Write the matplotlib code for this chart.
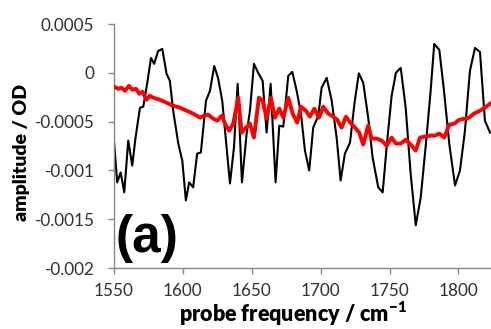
import matplotlib
matplotlib.use("Agg")
import matplotlib.pyplot as plt

# black trace (probe frequency / cm-1, amplitude in mOD)
black_freq = [1550.2, 1552.4, 1554.9, 1557.5, 1560.4, 1563.3, 1565.7, 1568.9, 1571.3, 1574.2,
              1576.9, 1579.2, 1582.1, 1585.1, 1588.2, 1590.6, 1593.0, 1596.7, 1599.6, 1602.2,
              1604.6, 1607.5, 1610.4, 1613.1, 1616.8, 1619.7, 1622.8, 1625.7, 1628.6, 1631.3,
              1634.2, 1637.1, 1639.8, 1642.9, 1646.3, 1648.7, 1651.6, 1654.7, 1657.9, 1660.8,
              1663.7, 1667.3, 1670.0, 1672.9, 1676.5, 1679.4, 1682.6, 1685.7, 1688.6, 1691.7,
              1694.6, 1698.3, 1700.7, 1704.4, 1708.0, 1711.6, 1714.5, 1717.6, 1721.3, 1724.6,
              1727.7, 1730.9, 1734.5, 1737.7, 1741.8, 1745.0, 1748.3, 1751.5, 1754.6, 1758.1,
              1761.7, 1765.3, 1769.0, 1772.6, 1776.4, 1779.8, 1782.4, 1786.1, 1789.5, 1793.3,
              1797.5, 1801.1, 1804.7, 1808.3, 1812.0, 1815.6, 1819.2, 1822.9]
black_amp = [-0.724, -1.122, -1.020, -1.224, -0.694, -0.949, -0.663, -0.357, -0.347, -0.102,
             0.153, 0.092, 0.224, 0.245, -0.010, -0.082, -0.388, -0.724, -0.898, -1.306,
             -1.122, -1.173, -0.827, -0.816, -0.286, -0.184, 0.071, -0.061, -0.286, -0.694,
             -1.133, -0.765, -0.112, -1.122, -0.622, -0.388, 0.092, 0.000, -0.082, -0.612,
             -0.112, -1.122, -0.541, -0.551, -0.031, 0.010, -0.184, -0.418, -0.796, -1.000,
             -0.561, -0.439, -0.153, -0.051, -0.286, -0.663, -1.102, -0.827, -0.714, -0.306,
             -0.005, -0.102, -0.459, -0.867, -1.173, -1.224, -0.694, -0.235, 0.000, 0.051,
             -0.357, -1.031, -1.561, -1.276, -0.724, -0.184, 0.296, 0.235, -0.184, -0.724,
             -1.153, -1.000, -0.592, 0.020, 0.255, 0.214, -0.490, -0.612]

# red trace
red_freq = [1550.2, 1553.1, 1555.6, 1558.0, 1560.9, 1563.3, 1566.0, 1568.4, 1570.8, 1573.7,
            1576.1, 1578.5, 1583.4, 1588.2, 1593.0, 1597.9, 1602.8, 1607.5, 1612.4, 1615.3,
            1618.4, 1622.1, 1625.0, 1628.2, 1631.3, 1633.7, 1636.6, 1640.2, 1642.7, 1645.8,
            1648.7, 1651.6, 1655.2, 1657.9, 1660.8, 1663.9, 1666.8, 1670.0, 1672.9, 1676.5,
            1679.7, 1683.0, 1685.7, 1689.3, 1692.2, 1695.4, 1698.8, 1701.9, 1705.5, 1709.1,
            1712.0, 1715.2, 1718.4, 1721.5, 1724.9, 1728.0, 1730.9, 1734.5, 1737.0, 1740.6,
            1744.3, 1747.9, 1751.5, 1754.6, 1758.1, 1761.9, 1765.3, 1769.0, 1772.1, 1775.7,
            1779.3, 1783.0, 1786.1, 1789.7, 1793.3, 1797.0, 1800.6, 1804.7, 1807.8, 1811.2,
            1815.6, 1819.2, 1822.9]
red_amp = [-0.143, -0.163, -0.153, -0.184, -0.133, -0.173, -0.163, -0.214, -0.194, -0.276,
           -0.235, -0.255, -0.276, -0.306, -0.337, -0.357, -0.388, -0.418, -0.459, -0.439,
           -0.429, -0.469, -0.490, -0.439, -0.541, -0.592, -0.520, -0.255, -0.612, -0.561,
           -0.520, -0.663, -0.255, -0.286, -0.469, -0.255, -0.459, -0.367, -0.459, -0.255,
           -0.418, -0.510, -0.347, -0.388, -0.449, -0.367, -0.459, -0.347, -0.418, -0.449,
           -0.480, -0.561, -0.449, -0.510, -0.561, -0.612, -0.735, -0.541, -0.673, -0.673,
           -0.694, -0.745, -0.663, -0.724, -0.724, -0.684, -0.735, -0.796, -0.663, -0.653,
           -0.643, -0.643, -0.622, -0.663, -0.531, -0.520, -0.480, -0.469, -0.459, -0.418,
           -0.388, -0.357, -0.316]

y_ticks = [0.0005, 0, -0.0005, -0.001, -0.0015, -0.002]
y_ticklabels = ['0.0005', '0', '-0.0005', '-0.001', '-0.0015', '-0.002']
x_ticks = [1550, 1600, 1650, 1700, 1750, 1800]

plt.rcParams['font.family'] = ['Lato', 'DejaVu Sans']
plt.rcParams['mathtext.default'] = 'regular'

fig = plt.figure(figsize=(4.91, 3.29), dpi=100)
ax = fig.add_axes([0.232, 0.185, 0.768, 0.742])

ax.plot(black_freq, [a / 1000 for a in black_amp], color='black', lw=1.5, zorder=2)
ax.plot(red_freq, [a / 1000 for a in red_amp], color='#ff0000', lw=2.8, zorder=3)

ax.set_xlim(1550, 1823.6)
ax.set_ylim(-0.002, 0.0005)
ax.set_xticks(x_ticks)
ax.set_xticklabels([str(t) for t in x_ticks])
ax.set_yticks(y_ticks)
ax.set_yticklabels(y_ticklabels)

for s in ['top', 'right']:
    ax.spines[s].set_visible(False)
for s in ['left', 'bottom']:
    ax.spines[s].set_color('#868686')
    ax.spines[s].set_linewidth(1.0)
ax.tick_params(axis='both', colors='#868686', labelcolor='#303030', labelsize=12.3,
               length=4.5, width=1.0, direction='out')
ax.tick_params(axis='y', pad=9.5)
ax.tick_params(axis='x', pad=6)

ax.set_ylabel('amplitude / OD', fontsize=14, fontweight='heavy')
ax.yaxis.set_label_coords(-0.222, 0.475)
ax.set_xlabel('probe frequency / cm$^{-1}$', fontsize=15.5, fontweight='heavy')
ax.xaxis.set_label_coords(0.476, -0.13)

ax.text(0.004, 0.123, '(a)', transform=ax.transAxes, fontsize=37, fontweight='bold',
        family='Liberation Sans', va='center', ha='left')

fig.savefig('out.png', dpi=100)
